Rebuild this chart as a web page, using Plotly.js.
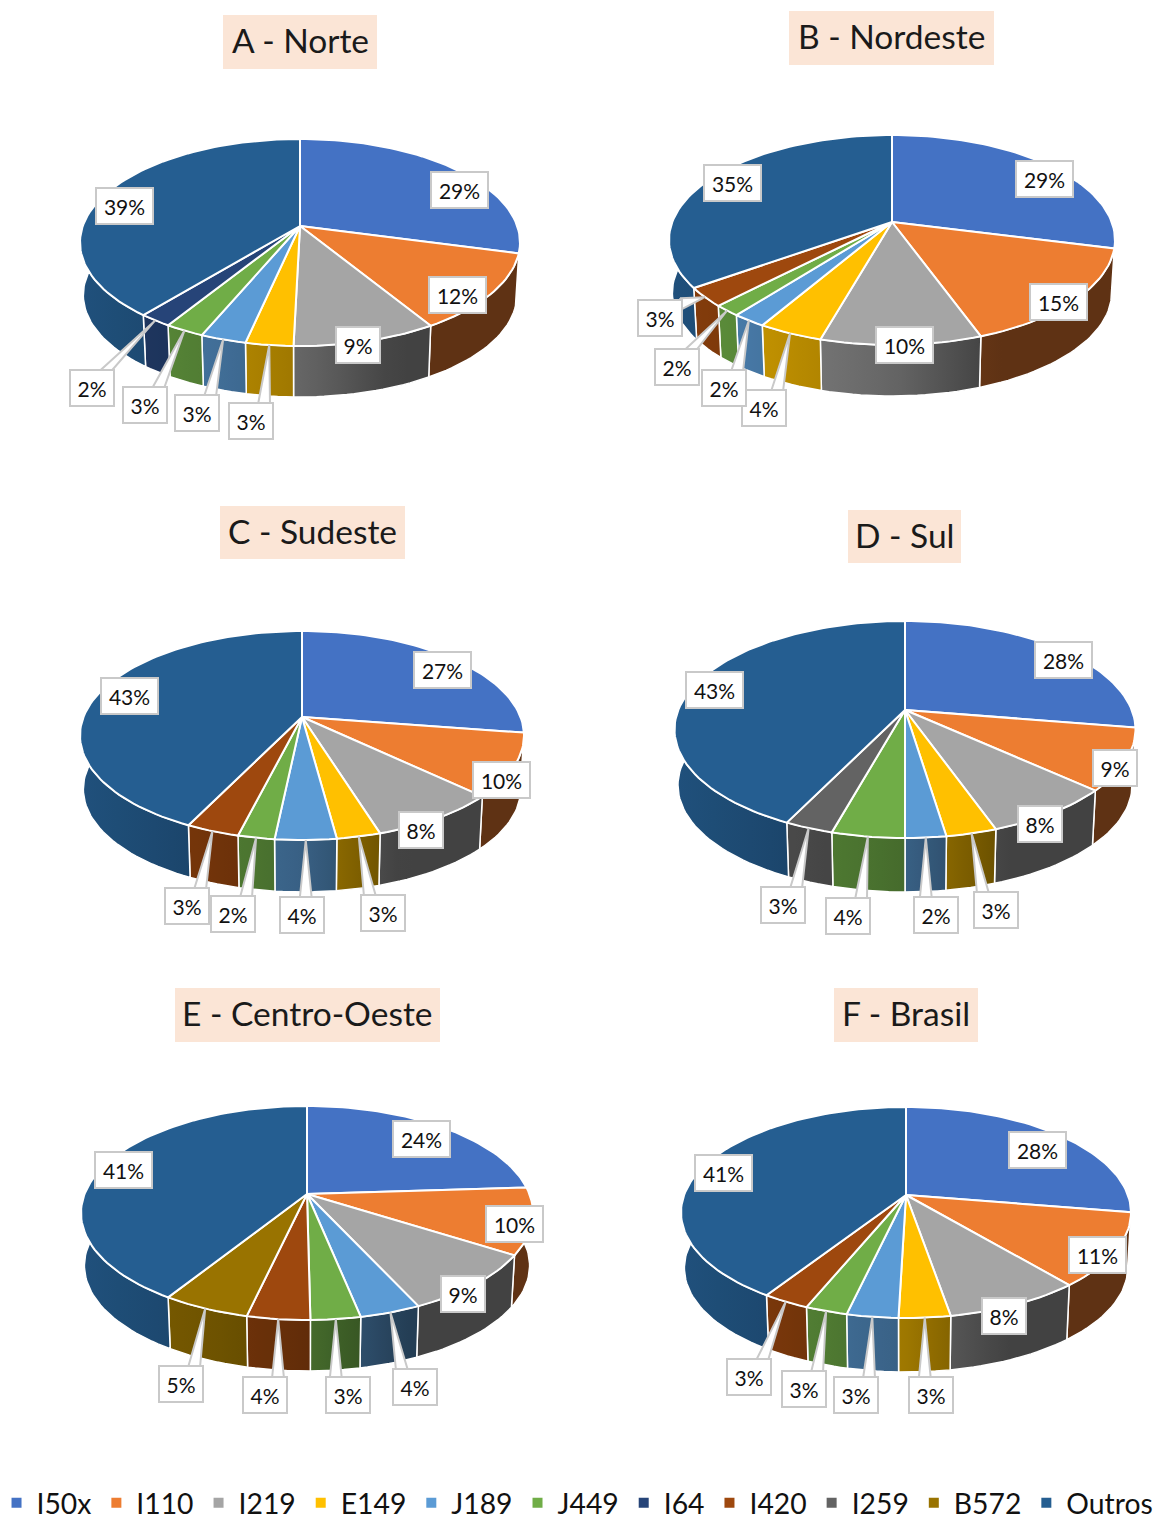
<!DOCTYPE html>
<html><head><meta charset="utf-8">
<script src="https://cdn.plot.ly/plotly-3.0.1.min.js"></script>
<style>html,body{margin:0;padding:0;background:#fff}</style></head>
<body><div id="chart" style="width:1157px;height:1520px"></div>
<script>
// ---- data ----
const seriesNames = ['I50x','I110','I219','E149','J189','J449','I64','I420','I259','B572','Outros'];
const seriesColors = ['#4472C4','#ED7D31','#A5A5A5','#FFC000','#5B9BD5','#70AD47','#264478','#9E480E','#636363','#997300','#255E91'];
const chartTitles = ['A - Norte','B - Nordeste','C - Sudeste','D - Sul','E - Centro-Oeste','F - Brasil'];
const norteNames = ['I50x','I110','I219','E149','J189','J449','I64','Outros'];
const norteValues = [29.2,12.1,9.1,3.0,2.9,2.5,2.1,39.1];
const nordesteNames = ['I50x','I110','I219','E149','J189','J449','I420','Outros'];
const nordesteValues = [29,15.49,9.9,4,2.1,1.7,2.9,34.91];
const sudesteNames = ['I50x','I110','I219','E149','J189','J449','I420','Outros'];
const sudesteValues = [27.4,9.7,8.1,2.7,3.75,2.25,3.3,42.8];
const sulNames = ['I50x','I110','I219','E149','J189','J449','I259','Outros'];
const sulValues = [27.6,9.2,7.8,3,2.4,4.3,2.9,42.8];
const centroNames = ['I50x','I110','I219','J189','J449','I420','B572','Outros'];
const centroValues = [24,10,9.1,3.7,3,3.8,5.3,41.1];
const brasilNames = ['I50x','I110','I219','E149','J189','J449','I420','Outros'];
const brasilValues = [27.6,11.3,8.4,3.15,3.15,2.6,2.9,40.9];

// ---- layout of the six pies (page pixels) ----
const pies = [
 {names:norteNames, values:norteValues, cx:300,cy:226,top:139,front:346,rx:220,bottom:397,
  title:[300,42,154,54],
  boxes:[[459,191],[457,296],[358,346],[251,422],[197,414],[145,406],[92,389],[124,207]]},
 {names:nordesteNames, values:nordesteValues, cx:892,cy:222,top:135,front:345,rx:223,bottom:396,
  title:[891.5,38,205,54],
  boxes:[[1044,180],[1058,303],[904,346],[764,409],[724,389],[677,368],[660,319],[732,184]]},
 {names:sudesteNames, values:sudesteValues, cx:302,cy:717,top:631,front:840,rx:222,bottom:892,
  title:[312.5,532.5,185,53],
  boxes:[[442,671],[501,781],[421,831],[383,914],[302,916],[233,915],[187,907],[129,697]]},
 {names:sulNames, values:sulValues, cx:905,cy:710,top:621,front:838,rx:230.5,bottom:892,
  title:[904.5,536.5,113,53],
  boxes:[[1063,661],[1115,769],[1040,825],[996,911],[936,916],[848,917],[783,906],[714,691]]},
 {names:centroNames, values:centroValues, cx:307,cy:1194,top:1106,front:1320,rx:226,bottom:1371,
  title:[307.5,1015,265,54],
  boxes:[[421,1140],[514,1225],[463,1295],[415,1388],[348,1396],[265,1396],[181,1385],[123,1171]]},
 {names:brasilNames, values:brasilValues, cx:906,cy:1195,top:1107,front:1318,rx:225,bottom:1372,
  title:[906,1015,144,54],
  boxes:[[1037,1151],[1097,1256],[1004,1317],[931,1396],[856,1396],[804,1390],[749,1378],[723,1174]]}
];

const FONT = 'Lato, "Open Sans", sans-serif';
const SCALE_BOTTOM = 0.985;

function colorOf(name){ return seriesColors[seriesNames.indexOf(name)]; }
function hexRgb(h){ return [1,3,5].map(i=>parseInt(h.substr(i,2),16)); }
function shade(h,f){ const c=hexRgb(h).map(v=>Math.round(v*f)); return 'rgb('+c.join(',')+')'; }
function lightAt(t){ return t<0 ? 0.62-0.235*t : Math.max(0.40,0.62-0.5*t); }

function projector(p){
  const a=p.cy-p.top, c=p.front-p.cy;
  const k=(c-a)/(c+a), b=2*a*c/(a+c), R=p.rx*Math.sqrt(1-k*k);
  const d=p.bottom-p.front+(1-SCALE_BOTTOM)*c;
  return function(pct,low){
    const th=2*Math.PI*pct/100, u=Math.sin(th), v=-Math.cos(th), w=1-k*v;
    const s=low?SCALE_BOTTOM:1;
    return [p.cx+s*R*u/w, p.cy+(low?d:0)+s*b*v/w];
  };
}
function arc(P,from,to,low){
  const n=Math.max(2,Math.ceil((to-from)/0.5)), pts=[];
  for(let i=0;i<=n;i++) pts.push(P(from+(to-from)*i/n,low));
  return pts;
}

const walls=[], tops=[], leaders=[], annotations=[];
pies.forEach(p=>{
  const P=projector(p);
  let acc=0;
  p.values.forEach((val,i)=>{
    const from=acc, to=acc+val, mid=(from+to)/2; acc=to;
    const col=colorOf(p.names[i]);
    // outer wall
    const upper=arc(P,from,to,false), lower=arc(P,from,to,true).reverse();
    const ring=upper.concat(lower,[upper[0]]);
    const xs=ring.map(q=>q[0]), ys=ring.map(q=>q[1]);
    const x0=Math.min(...xs), x1=Math.max(...xs), scale=[];
    for(let j=0;j<=6;j++){ const f=j/6; scale.push([f,shade(col,lightAt((x0+(x1-x0)*f-p.cx)/p.rx))]); }
    walls.push({type:'scatter',mode:'lines',x:xs,y:ys,fill:'toself',
      fillgradient:{type:'horizontal',start:x0,stop:x1,colorscale:scale},
      line:{color:'#ffffff',width:1.5},hoverinfo:'skip',showlegend:false});
    // top face
    const face=[[p.cx,p.cy]].concat(upper,[[p.cx,p.cy]]);
    tops.push({type:'scatter',mode:'lines',x:face.map(q=>q[0]),y:face.map(q=>q[1]),fill:'toself',
      fillcolor:col,line:{color:'#ffffff',width:2},hoverinfo:'skip',showlegend:false});
    // label
    const shown=Math.round(val);
    const txt=shown+'%', w=shown>=10?59:46, h=38, box=[p.boxes[i][0],p.boxes[i][1]-1.5];
    annotations.push({x:box[0],y:box[1],xref:'x',yref:'y',text:txt,showarrow:false,width:w-4,height:h-4,
      align:'center',valign:'middle',bgcolor:'#ffffff',bordercolor:'#c9c9c9',borderwidth:2,borderpad:0,
      font:{family:FONT,size:21,color:'#111111'}});
    // callout wedge for the small slices
    if(shown<=5){
      const tip=P(mid,false), l=box[0]-w/2, r=box[0]+w/2, t=box[1]-h/2;
      let pts;
      if(tip[1]>t-6){ // points sideways out of the right edge
        const yb=Math.max(t+4,Math.min(tip[1]+6,box[1]));
        pts=[[r-3,yb-5],tip,[r-3,yb+7]];
      } else {
        const xb=Math.max(l+10,Math.min(r-10,tip[0]));
        pts=[[xb-6,t+3],tip,[xb+6,t+3]];
      }
      pts.push(pts[0]);
      leaders.push({type:'scatter',mode:'lines',x:pts.map(q=>q[0]),y:pts.map(q=>q[1]),fill:'toself',
        fillcolor:'#ffffff',line:{color:'#c9c9c9',width:2},hoverinfo:'skip',showlegend:false});
    }
  });
});
chartTitles.forEach((txt,i)=>{
  const t=pies[i].title;
  annotations.push({x:t[0],y:t[1],xref:'x',yref:'y',text:' ',showarrow:false,width:t[2],height:t[3],
    bgcolor:'#fbe5d6',borderpad:0,borderwidth:0,font:{family:FONT,size:12}});
  annotations.push({x:t[0],y:t[1]-2,xref:'x',yref:'y',text:txt,showarrow:false,
    font:{family:FONT,size:33.5,color:'#1a1a1a'}});
});

const legendTraces=seriesNames.map((n,i)=>({type:'scatter',mode:'markers',name:n,x:[null],y:[null],
  marker:{symbol:'square',size:10,color:seriesColors[i]},hoverinfo:'skip'}));

const layout={
  width:1157,height:1520,margin:{l:0,r:0,t:0,b:0,autoexpand:false},paper_bgcolor:'#fff',plot_bgcolor:'#fff',
  xaxis:{range:[0,1157],visible:false,fixedrange:true},
  yaxis:{range:[1520,0],visible:false,fixedrange:true},
  showlegend:true,
  legend:{orientation:'h',x:-0.003,xanchor:'left',y:-0.0052,yanchor:'bottom',
    font:{family:FONT,size:28.3,color:'#111111'},bgcolor:'rgba(0,0,0,0)',itemclick:false,itemdoubleclick:false},
  annotations:annotations
};
Plotly.newPlot('chart',walls.concat(tops,leaders,legendTraces),layout,{displayModeBar:false,staticPlot:true});
</script></body></html>
